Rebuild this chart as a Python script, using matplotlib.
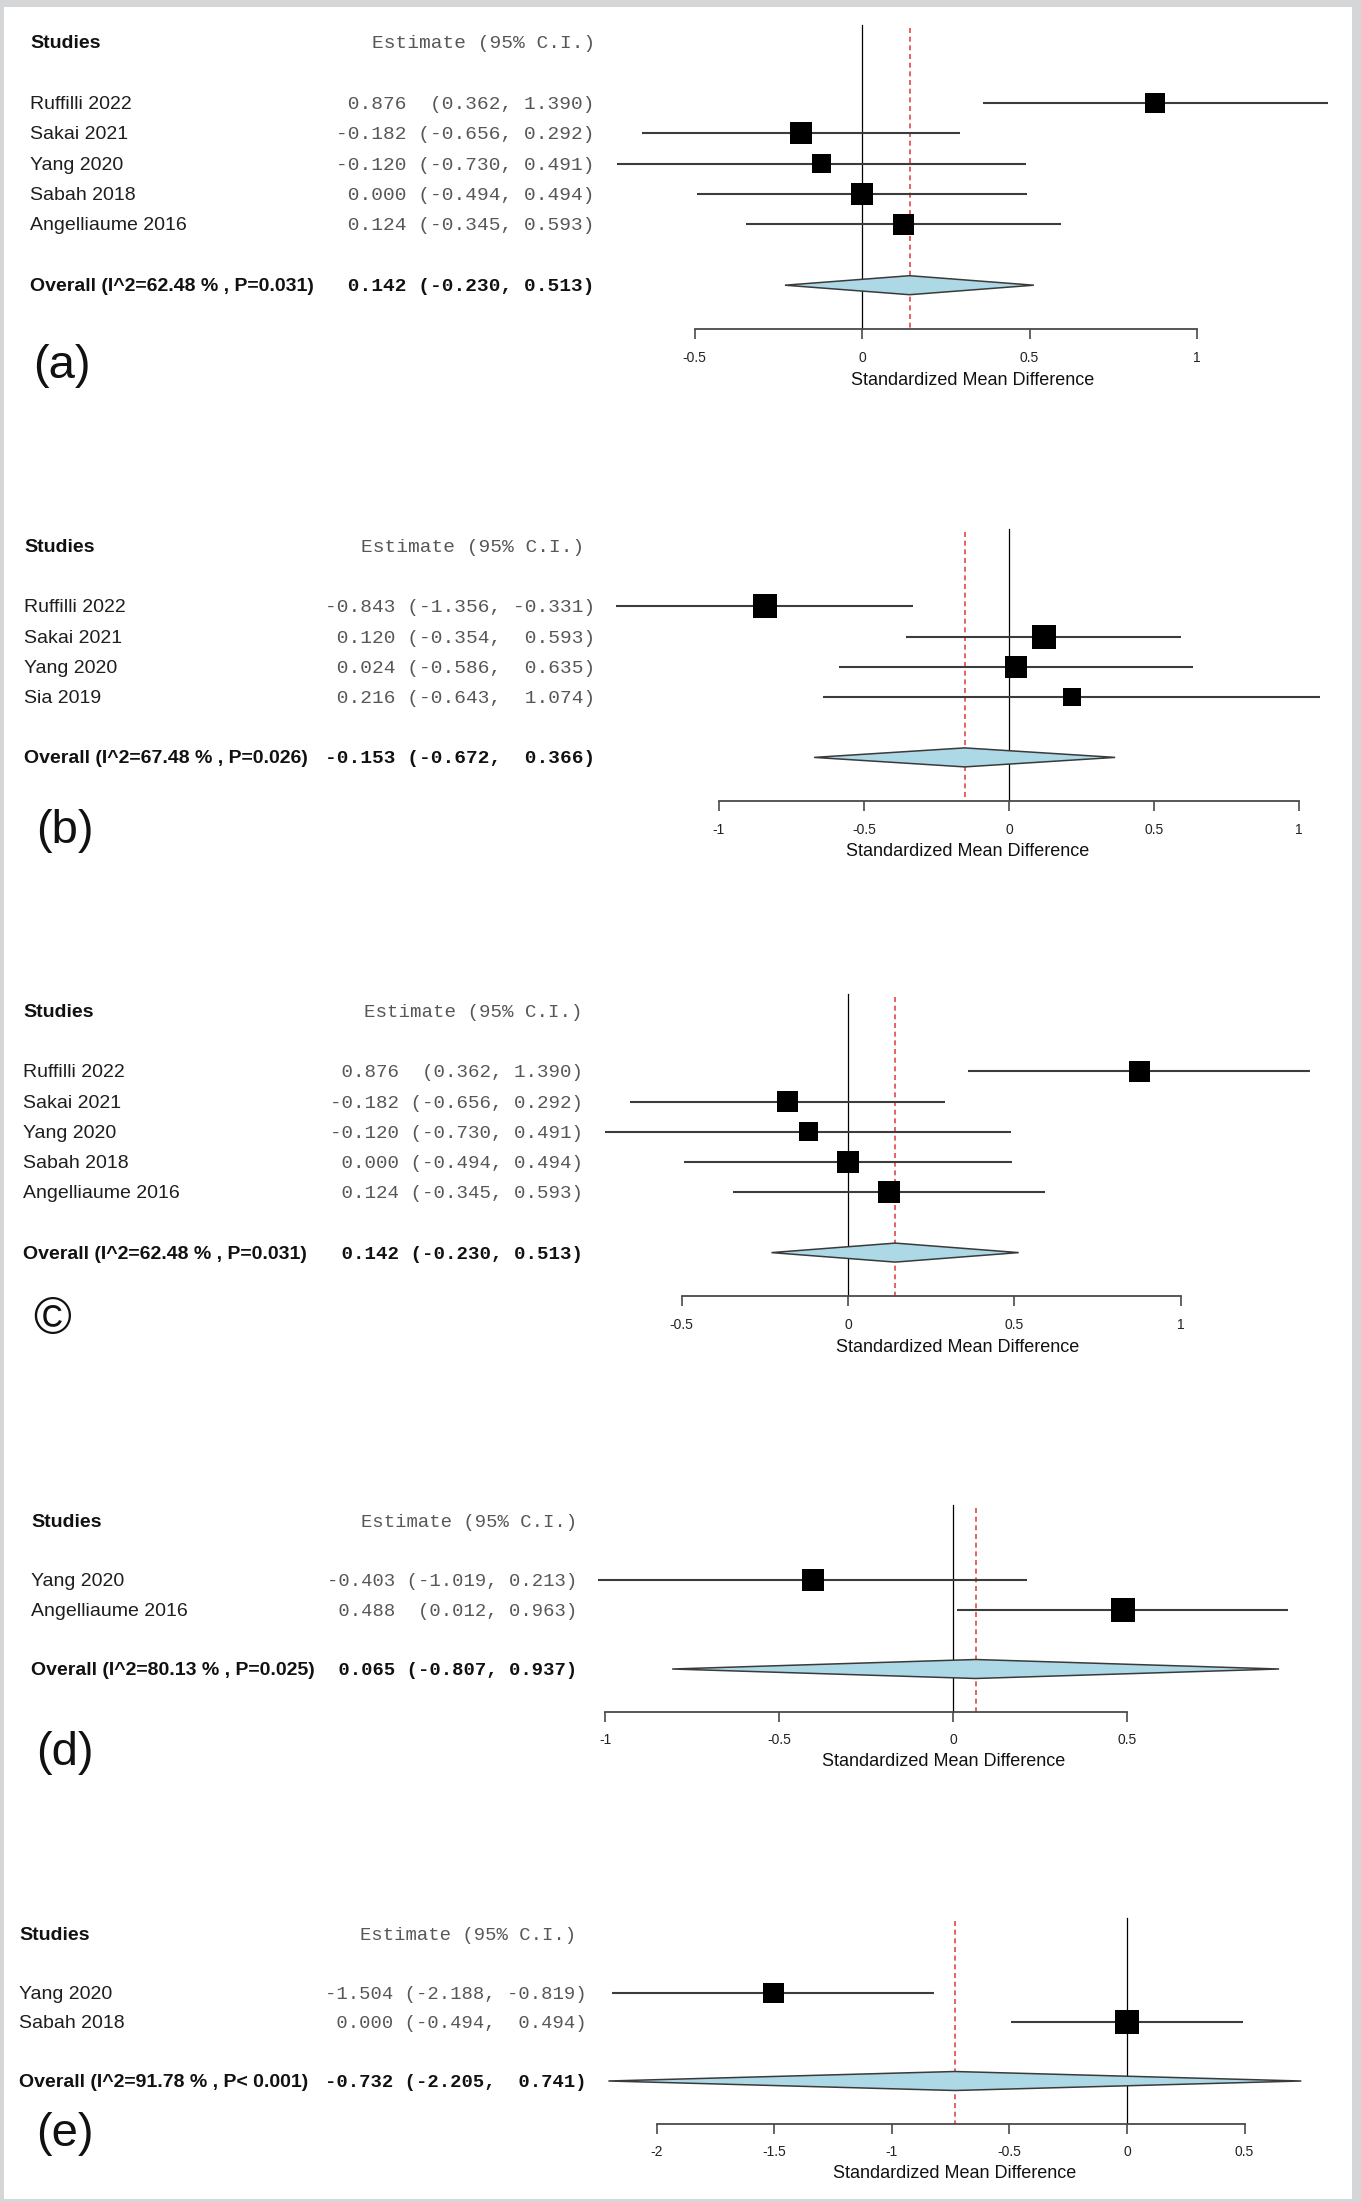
import matplotlib
matplotlib.use("Agg")
import matplotlib.pyplot as plt
from matplotlib import transforms
from matplotlib.patches import Polygon, Rectangle

plt.rcParams['axes.unicode_minus'] = False
plt.rcParams['font.family'] = ['Liberation Sans', 'DejaVu Sans']

# ------------------------------------------------------------------ data
a_studies = ["Ruffilli 2022", "Sakai 2021", "Yang 2020", "Sabah 2018", "Angelliaume 2016"]
a_est = [0.876, -0.182, -0.120, 0.000, 0.124]
a_lo = [0.362, -0.656, -0.730, -0.494, -0.345]
a_hi = [1.390, 0.292, 0.491, 0.494, 0.593]
a_overall = [0.142, -0.230, 0.513]
a_stats = "Overall (I^2=62.48 % , P=0.031)"
a_ticks = [-0.5, 0, 0.5, 1]
a_ticklabels = ["-0.5", "0", "0.5", "1"]

b_studies = ["Ruffilli 2022", "Sakai 2021", "Yang 2020", "Sia 2019"]
b_est = [-0.843, 0.120, 0.024, 0.216]
b_lo = [-1.356, -0.354, -0.586, -0.643]
b_hi = [-0.331, 0.593, 0.635, 1.074]
b_overall = [-0.153, -0.672, 0.366]
b_stats = "Overall (I^2=67.48 % , P=0.026)"
b_ticks = [-1, -0.5, 0, 0.5, 1]
b_ticklabels = ["-1", "-0.5", "0", "0.5", "1"]

c_studies = ["Ruffilli 2022", "Sakai 2021", "Yang 2020", "Sabah 2018", "Angelliaume 2016"]
c_est = [0.876, -0.182, -0.120, 0.000, 0.124]
c_lo = [0.362, -0.656, -0.730, -0.494, -0.345]
c_hi = [1.390, 0.292, 0.491, 0.494, 0.593]
c_overall = [0.142, -0.230, 0.513]
c_stats = "Overall (I^2=62.48 % , P=0.031)"
c_ticks = [-0.5, 0, 0.5, 1]
c_ticklabels = ["-0.5", "0", "0.5", "1"]

d_studies = ["Yang 2020", "Angelliaume 2016"]
d_est = [-0.403, 0.488]
d_lo = [-1.019, 0.012]
d_hi = [0.213, 0.963]
d_overall = [0.065, -0.807, 0.937]
d_stats = "Overall (I^2=80.13 % , P=0.025)"
d_ticks = [-1, -0.5, 0, 0.5]
d_ticklabels = ["-1", "-0.5", "0", "0.5"]

e_studies = ["Yang 2020", "Sabah 2018"]
e_est = [-1.504, 0.000]
e_lo = [-2.188, -0.494]
e_hi = [-0.819, 0.494]
e_overall = [-0.732, -2.205, 0.741]
e_stats = "Overall (I^2=91.78 % , P< 0.001)"
e_ticks = [-2, -1.5, -1, -0.5, 0, 0.5]
e_ticklabels = ["-2", "-1.5", "-1", "-0.5", "0", "0.5"]

panel_labels = ["(a)", "(b)", "\u00a9", "(d)", "(e)"]
header_text = "Estimate (95% C.I.)"
xlabel_text = "Standardized Mean Difference"

# ------------------------------------------------------------------ layout / style (pixels)
W, H, DPI = 1361, 2202, 100
layout = [
    dict(hy=42, sp=30.4, zero=862, unit=335, name_x=30, est_r=595, head_r=595, mono=14.0,
         lab=(62, 366), labsize=34, sq=[20, 21.5, 19, 21.5, 21.5]),
    dict(hy=546, sp=30.2, zero=1009, unit=290, name_x=24, est_r=595, head_r=584, mono=14.0,
         lab=(65, 831), labsize=34, sq=[24, 24, 21.5, 18]),
    dict(hy=1011, sp=30.2, zero=848, unit=332.7, name_x=23, est_r=583, head_r=583, mono=13.8,
         lab=(52, 1320), labsize=37, sq=[21, 21, 19, 21.5, 22]),
    dict(hy=1521, sp=29.6, zero=953, unit=348, name_x=31, est_r=577, head_r=577, mono=13.6,
         lab=(65, 1753), labsize=34, sq=[21.5, 23.5]),
    dict(hy=1934, sp=29.4, zero=1127, unit=235.2, name_x=19, est_r=587, head_r=576, mono=13.6,
         lab=(65, 2134), labsize=34, sq=[20.5, 24]),
]

data = [
    (a_studies, a_est, a_lo, a_hi, a_overall, a_stats, a_ticks, a_ticklabels),
    (b_studies, b_est, b_lo, b_hi, b_overall, b_stats, b_ticks, b_ticklabels),
    (c_studies, c_est, c_lo, c_hi, c_overall, c_stats, c_ticks, c_ticklabels),
    (d_studies, d_est, d_lo, d_hi, d_overall, d_stats, d_ticks, d_ticklabels),
    (e_studies, e_est, e_lo, e_hi, e_overall, e_stats, e_ticks, e_ticklabels),
]

BORDER = "#d5d6d8"
CI_COL = "#3c3c3c"
MONO_COL = "#575757"
NAME_COL = "#1e1e1e"
DIAMOND_FILL = "#add8e6"
RED = "#e04848"
TXT_DY = 0.05  # small downward nudge of text rows (row units)


def fmt_rows(est, lo, hi, overall):
    E = [f"{v:.3f}" for v in list(est) + [overall[0]]]
    L = ["(" + f"{v:.3f}" for v in list(lo) + [overall[1]]]
    Hs = [f"{v:.3f}" for v in list(hi) + [overall[2]]]
    we = max(len(s) for s in E)
    wl = max(len(s) for s in L)
    wh = max(len(s) for s in Hs)
    return [e.rjust(we) + " " + l.rjust(wl) + ", " + h.rjust(wh) + ")"
            for e, l, h in zip(E, L, Hs)]


fig = plt.figure(figsize=(W / DPI, H / DPI), dpi=DPI)
fig.patch.set_facecolor(BORDER)
fig.patches.append(Rectangle((4 / W, 3 / H), (1352 - 4) / W, (2202 - 7 - 3) / H,
                             transform=fig.transFigure, facecolor="white",
                             edgecolor="none", zorder=-10))

for (studies, est, lo, hi, overall, stats, ticks, ticklabels), L, plab in zip(data, layout, panel_labels):
    n = len(studies)
    sp = L["sp"]
    rows = list(range(2, 2 + n))
    r_over = n + 3
    r_axis = n + 4.45
    r_top, r_bot = -1.5, r_axis + 3.0
    top_px = L["hy"] + r_top * sp
    bot_px = L["hy"] + r_bot * sp
    ax = fig.add_axes([0, 1 - bot_px / H, 1, (bot_px - top_px) / H])
    ax.patch.set_visible(False)
    ax.set_xlim(-L["zero"] / L["unit"], (W - L["zero"]) / L["unit"])
    ax.set_ylim(r_bot, r_top)
    for s in ["top", "left", "right"]:
        ax.spines[s].set_visible(False)
    ax.spines["bottom"].set_position(("data", r_axis))
    ax.spines["bottom"].set_bounds(ticks[0], ticks[-1])
    ax.spines["bottom"].set_color("#4a4a4a")
    ax.spines["bottom"].set_linewidth(1.3)
    ax.set_yticks([])
    ax.set_xticks(ticks)
    ax.set_xticklabels(ticklabels)
    ax.tick_params(axis="x", direction="out", length=7, width=1.2, color="#4a4a4a",
                   labelsize=10, pad=8.5, labelcolor="#222222")

    # reference lines
    ax.plot([0, 0], [-0.55, r_axis], color="black", lw=0.9, zorder=1)
    ax.plot([overall[0], overall[0]], [-0.45, r_axis], color=RED, lw=1.2,
            linestyle=(0, (3.0, 2.2)), zorder=1.5)

    # study CIs and squares
    for r, e, l, h in zip(rows, est, lo, hi):
        ax.plot([l, h], [r, r], color=CI_COL, lw=1.5, zorder=2, solid_capstyle="butt")
    ax.scatter(est, rows, s=[(p * 72 / DPI) ** 2 for p in L["sq"]], marker="s",
               color="black", edgecolors="none", zorder=3)

    # overall diamond
    dh = 9.5 / sp
    ax.add_patch(Polygon([(overall[1], r_over), (overall[0], r_over - dh),
                          (overall[2], r_over), (overall[0], r_over + dh)],
                         closed=True, facecolor=DIAMOND_FILL, edgecolor="#3a3a3a",
                         lw=1.1, zorder=3))

    # x label centred on the data extent
    xmid = (min(lo + [overall[1]]) + max(hi + [overall[2]])) / 2
    ax.text(xmid, r_axis + 1.68, xlabel_text, ha="center", va="center",
            fontsize=13, color="#111111")

    # text columns
    tr = transforms.blended_transform_factory(fig.transFigure, ax.transData)
    ax.text(L["name_x"] / W, 0 + TXT_DY, "Studies", transform=tr, ha="left", va="center",
            fontsize=14, fontweight="bold", color="#111111")
    ax.text(L["head_r"] / W, 0 + TXT_DY, header_text, transform=tr, ha="right", va="center",
            fontsize=L["mono"], family="Liberation Mono", color=MONO_COL)
    strs = fmt_rows(est, lo, hi, overall)
    for r, name, s in zip(rows, studies, strs[:-1]):
        ax.text(L["name_x"] / W, r + TXT_DY, name, transform=tr, ha="left", va="center",
                fontsize=14, color=NAME_COL)
        ax.text(L["est_r"] / W, r + TXT_DY, s, transform=tr, ha="right", va="center",
                fontsize=L["mono"], family="Liberation Mono", color=MONO_COL)
    ax.text(L["name_x"] / W, r_over + TXT_DY, stats, transform=tr, ha="left", va="center",
            fontsize=14, fontweight="bold", color="#111111")
    ax.text(L["est_r"] / W, r_over + TXT_DY, strs[-1], transform=tr, ha="right", va="center",
            fontsize=L["mono"], family="Liberation Mono", fontweight="bold", color="#111111")

    # panel label
    fig.text(L["lab"][0] / W, 1 - L["lab"][1] / H, plab, ha="center", va="center",
             fontsize=L["labsize"], color="#111111")

fig.savefig("out.png", dpi=DPI, facecolor=fig.get_facecolor())
